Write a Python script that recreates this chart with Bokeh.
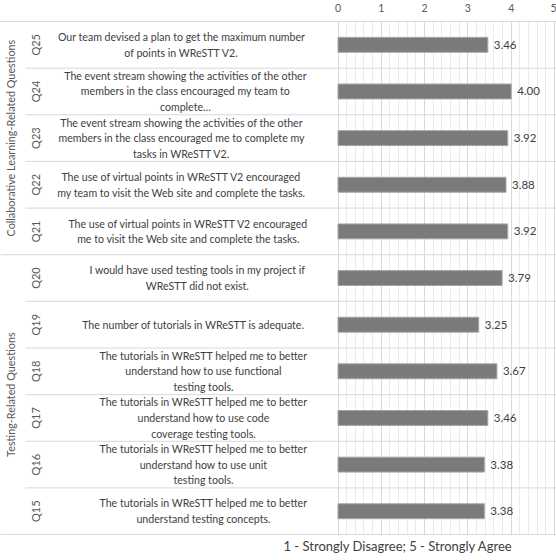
from bokeh.plotting import figure
from bokeh.models import Range1d, FixedTicker, ColumnDataSource, Title
from bokeh.core.properties import value
from bokeh.embed import file_html
from bokeh.resources import INLINE
import math

# ---------------- data ----------------
qids = ["Q25", "Q24", "Q23", "Q22", "Q21", "Q20", "Q19", "Q18", "Q17", "Q16", "Q15"]
scores = [3.46, 4.00, 3.92, 3.88, 3.92, 3.79, 3.25, 3.67, 3.46, 3.38, 3.38]
questions = [
    "Our team devised a plan to get the maximum number\nof points in WReSTT V2.",
    "The event stream showing the activities of the other\nmembers in the class encouraged my team to\ncomplete\u2026",
    "The event stream showing the activities of the other\nmembers in the class encouraged me to complete my\ntasks in WReSTT V2.",
    "The use of virtual points in WReSTT V2 encouraged\nmy team to visit the Web site and complete the tasks.",
    "The use of virtual points in WReSTT V2 encouraged\nme to visit the Web site and complete the tasks.",
    "I would have used testing tools in my project if\nWReSTT did not exist.",
    "The number of tutorials in WReSTT is adequate.",
    "The tutorials in WReSTT helped me to better\nunderstand how to use functional\ntesting tools.",
    "The tutorials in WReSTT helped me to better\nunderstand how to use code\ncoverage testing tools.",
    "The tutorials in WReSTT helped me to better\nunderstand how to use unit\ntesting tools.",
    "The tutorials in WReSTT helped me to better\nunderstand testing concepts.",
]
groups = ["Collaborative Learning-Related Questions", "Testing-Related Questions"]
group_sizes = [5, 6]
x_ticks = [0, 1, 2, 3, 4, 5]
caption = "1 - Strongly Disagree; 5 - Strongly Agree"

# ---------------- layout ----------------
W, H = 556, 560
TOP, BOTTOM = 18, 25
ZERO_PX = 337.5
PX_PER_UNIT = 43.3
text_center_px = [181, 185, 181, 181, 188, 197, 193, 203, 203, 203, 203]
QID_PX = 35
GROUP_PX = 10
SEP_START_PX = 25

def sx(px):
    return (px - ZERO_PX) / PX_PER_UNIT

n = len(qids)
ys = [n - 1 - i + 0.5 for i in range(n)]

FONT = "Lato"
TXT = "#404040"
GRAY = "#595959"

p = figure(width=W, height=H, output_backend="svg", toolbar_location=None,
           x_range=Range1d(sx(0), sx(W)), y_range=Range1d(-0.02, n),
           x_axis_location="above", y_axis_location=None,
           min_border_left=0, min_border_right=0, min_border_top=TOP,
           min_border_bottom=BOTTOM)
p.outline_line_color = None
p.background_fill_color = "white"
p.border_fill_color = "white"

minor = [i / 5 for i in range(0, 26) if i % 5 != 0]
ticker = FixedTicker(ticks=x_ticks, minor_ticks=minor)
ax = p.xaxis[0]
ax.ticker = ticker
ax.axis_line_color = "#d9d9d9"
ax.major_tick_line_color = None
ax.minor_tick_line_color = None
ax.major_label_text_font = FONT
ax.major_label_text_font_size = "10.5px"
ax.major_label_text_color = GRAY
ax.major_label_standoff = 4

p.ygrid.visible = False
p.xgrid.ticker = ticker
p.xgrid.grid_line_color = "#d9d9d9"
p.xgrid.minor_grid_line_color = "#ebebeb"

# separators
sep_x0, sep_x1, sep_y = [], [], []
for k in range(1, n):
    sep_y.append(float(k))
    is_group = (k == group_sizes[1])
    sep_x0.append(sx(0) if is_group else sx(SEP_START_PX))
    sep_x1.append(sx(W))
sep_y.append(0.0)
sep_x0.append(sx(0))
sep_x1.append(sx(W))
p.segment(x0=sep_x0, x1=sep_x1, y0=sep_y, y1=sep_y, line_color="#d9d9d9", line_width=1)

src = ColumnDataSource(dict(y=ys, score=scores, qid=qids, q=questions,
                            lab=["%.2f" % s for s in scores],
                            tx=[sx(v) for v in text_center_px]))

p.hbar(y="y", left=0, right="score", height=0.32, source=src,
       fill_color="#7a7a7a", line_color="#a6a6a6", line_width=1)

p.text(x="score", y="y", text="lab", source=src, x_offset=6,
       text_font=value(FONT), text_font_size="11.5px", text_color=TXT,
       text_baseline="middle", text_align="left")

p.text(x="tx", y="y", text="q", source=src,
       text_font=value(FONT), text_font_size="10.6px", text_color=TXT,
       text_baseline="middle", text_align="center", text_line_height=1.3)

p.text(x=[sx(QID_PX)] * n, y=ys, text=qids, angle=math.pi / 2,
       text_font=value(FONT), text_font_size="11px", text_color=GRAY,
       text_baseline="middle", text_align="center")

g_y = []
start = n
for s in group_sizes:
    g_y.append(start - s / 2)
    start -= s
p.text(x=[sx(GROUP_PX)] * len(groups), y=g_y, text=groups, angle=math.pi / 2,
       text_font=value(FONT), text_font_size="10.8px", text_color=GRAY,
       text_baseline="middle", text_align="center")

t = Title(text=caption, align="left", offset=283, text_font=FONT,
          text_font_size="13px", text_color=TXT, text_font_style="normal",
          standoff=0)
p.add_layout(t, "below")

open("out.html", "w").write(file_html(p, INLINE))
